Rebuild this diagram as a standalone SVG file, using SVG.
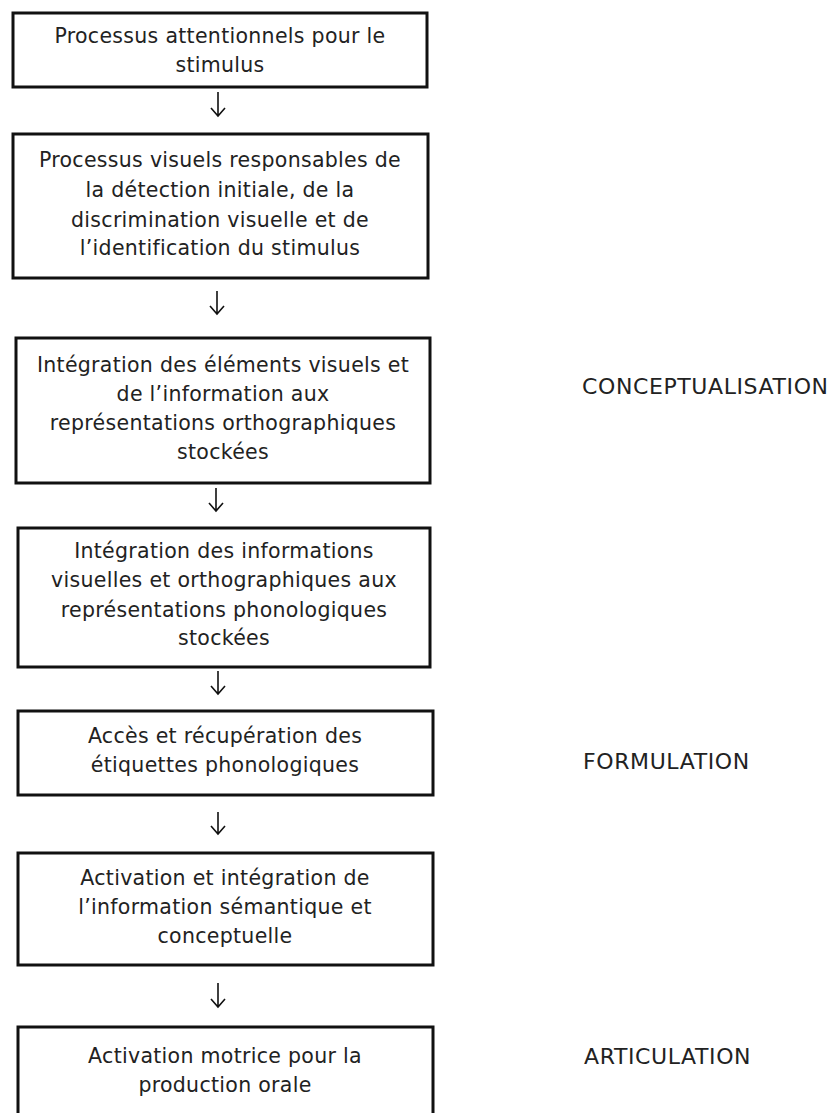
<svg xmlns="http://www.w3.org/2000/svg" width="835" height="1113" viewBox="0 0 835 1113">
<style>
.box{fill:#fff;stroke:#111;stroke-width:3}
.t{font-family:"DejaVu Sans",sans-serif;font-size:20.5px;letter-spacing:0.3px;fill:#222;text-anchor:middle}
.s{font-family:"DejaVu Sans",sans-serif;font-size:22px;letter-spacing:0.6px;fill:#222}
.a{fill:none;stroke:#111;stroke-width:1.6}
</style>
<rect width="835" height="1113" fill="#fff"/>
<g id="n1"><rect class="box" x="13" y="13" width="414" height="74"/>
<text class="t" x="220" y="43">Processus attentionnels pour le</text>
<text class="t" x="220" y="72">stimulus</text></g>
<g id="n2"><rect class="box" x="13" y="134" width="415" height="144"/>
<text class="t" x="220" y="167">Processus visuels responsables de</text>
<text class="t" x="220" y="197">la détection initiale, de la</text>
<text class="t" x="220" y="227">discrimination visuelle et de</text>
<text class="t" x="220" y="255">l’identification du stimulus</text></g>
<g id="n3"><rect class="box" x="16" y="338" width="414" height="145"/>
<text class="t" x="223" y="372">Intégration des éléments visuels et</text>
<text class="t" x="223" y="401">de l’information aux</text>
<text class="t" x="223" y="430">représentations orthographiques</text>
<text class="t" x="223" y="459">stockées</text></g>
<g id="n4"><rect class="box" x="18" y="528" width="412" height="139"/>
<text class="t" x="224" y="558">Intégration des informations</text>
<text class="t" x="224" y="587">visuelles et orthographiques aux</text>
<text class="t" x="224" y="617">représentations phonologiques</text>
<text class="t" x="224" y="645">stockées</text></g>
<g id="n5"><rect class="box" x="18" y="711" width="415" height="84"/>
<text class="t" x="225" y="743">Accès et récupération des</text>
<text class="t" x="225" y="772">étiquettes phonologiques</text></g>
<g id="n6"><rect class="box" x="18" y="853" width="415" height="112"/>
<text class="t" x="225" y="885">Activation et intégration de</text>
<text class="t" x="225" y="914">l’information sémantique et</text>
<text class="t" x="225" y="943">conceptuelle</text></g>
<g id="n7"><rect class="box" x="18" y="1027" width="415" height="100"/>
<text class="t" x="225" y="1063">Activation motrice pour la</text>
<text class="t" x="225" y="1092">production orale</text></g>
<g id="labels">
<text class="s" x="582" y="394">CONCEPTUALISATION</text>
<text class="s" x="583" y="769">FORMULATION</text>
<text class="s" x="584" y="1064">ARTICULATION</text>
</g>
<g id="connectors">
<path class="a" d="M218 92V116M211 108L218 116L225 108"/>
<path class="a" d="M217 291V314M210 306L217 314L224 306"/>
<path class="a" d="M216 488V511M209 503L216 511L223 503"/>
<path class="a" d="M218 671V694M211 686L218 694L225 686"/>
<path class="a" d="M218 812V834M211 826L218 834L225 826"/>
<path class="a" d="M218 983V1007M211 999L218 1007L225 999"/>
</g>
</svg>
